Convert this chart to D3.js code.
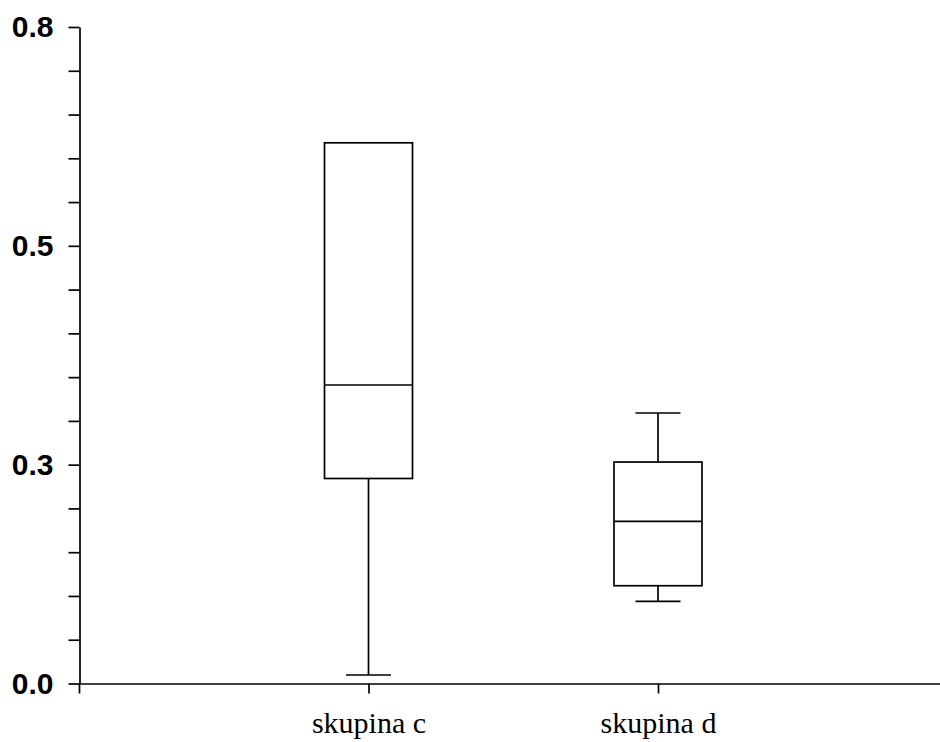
<!DOCTYPE html>
<html>
<head>
<meta charset="utf-8">
<script src="https://cdn.jsdelivr.net/npm/d3@7"></script>
<style>
  html, body { margin: 0; padding: 0; background: #fff; }
  svg { display: block; }
</style>
</head>
<body>
<svg id="chart" width="940" height="742"></svg>
<script>
// ---- data ----
const categories = ["skupina c", "skupina d"];
const whiskerLow = [0.0097, 0.0939];
const q1Values = [0.2342, 0.1117];
const medianValues = [0.3410, 0.1853];
const q3Values = [0.6177, 0.2530];
const whiskerHigh = [0.6177, 0.3090];
const yMajorTicks = [0, 0.25, 0.5, 0.75];
const yTickLabels = ["0.0", "0.3", "0.5", "0.8"];
const yMinorTicks = [0.05, 0.1, 0.15, 0.2, 0.3, 0.35, 0.4, 0.45, 0.55, 0.6, 0.65, 0.7];

const svg = d3.select("#chart");

const y = d3.scaleLinear().domain([0, 0.75]).range([683.5, 27]);
const x = d3.scalePoint().domain(categories).range([79, 947.5]).padding(1);

const boxW = 88, capW = 45, sw = 1.7;

// y axis
const allTicks = yMajorTicks.concat(yMinorTicks).sort((a, b) => a - b);
const yAxis = d3.axisLeft(y)
  .tickValues(allTicks)
  .tickSize(11)
  .tickSizeOuter(0)
  .tickPadding(15)
  .tickFormat(d => {
    const i = yMajorTicks.indexOf(d);
    return i >= 0 ? yTickLabels[i] : "";
  });
const gy = svg.append("g").attr("transform", "translate(79.5,0)").call(yAxis);
gy.selectAll("path, line").attr("stroke", "#000").attr("stroke-width", sw);
gy.selectAll("text")
  .attr("font-family", "'Liberation Sans', Arial, sans-serif")
  .attr("font-weight", "bold")
  .attr("font-size", 30)
  .attr("fill", "#000")
  .attr("dy", "0.33em");
// extension of y axis below zero
svg.append("line")
  .attr("x1", 79.5).attr("x2", 79.5)
  .attr("y1", y(0)).attr("y2", y(0) + 10)
  .attr("stroke", "#000").attr("stroke-width", sw);

// x axis
const xAxis = d3.axisBottom(x).tickSize(10).tickSizeOuter(0);
const gx = svg.append("g").attr("transform", `translate(0,${y(0)})`).call(xAxis);
gx.selectAll("path, line").attr("stroke", "#000").attr("stroke-width", sw);
gx.selectAll("text")
  .attr("font-family", "'Liberation Serif', 'Times New Roman', serif")
  .attr("font-size", 30)
  .attr("fill", "#000")
  .attr("y", 49.5)
  .attr("dy", 0);

// boxes
const data = categories.map((c, i) => ({
  c, lo: whiskerLow[i], q1: q1Values[i], med: medianValues[i], q3: q3Values[i], hi: whiskerHigh[i]
}));

const g = svg.append("g").attr("stroke", "#000").attr("stroke-width", sw).attr("fill", "none");
data.forEach(d => {
  const cx = x(d.c);
  // whiskers
  g.append("line").attr("x1", cx).attr("x2", cx).attr("y1", y(d.q1)).attr("y2", y(d.lo));
  g.append("line").attr("x1", cx).attr("x2", cx).attr("y1", y(d.q3)).attr("y2", y(d.hi));
  g.append("line").attr("x1", cx - capW / 2).attr("x2", cx + capW / 2).attr("y1", y(d.lo)).attr("y2", y(d.lo));
  g.append("line").attr("x1", cx - capW / 2).attr("x2", cx + capW / 2).attr("y1", y(d.hi)).attr("y2", y(d.hi));
  // box
  g.append("rect")
    .attr("x", cx - boxW / 2).attr("width", boxW)
    .attr("y", y(d.q3)).attr("height", y(d.q1) - y(d.q3))
    .attr("fill", "#fff");
  // median
  g.append("line").attr("x1", cx - boxW / 2).attr("x2", cx + boxW / 2).attr("y1", y(d.med)).attr("y2", y(d.med));
});
</script>
</body>
</html>
